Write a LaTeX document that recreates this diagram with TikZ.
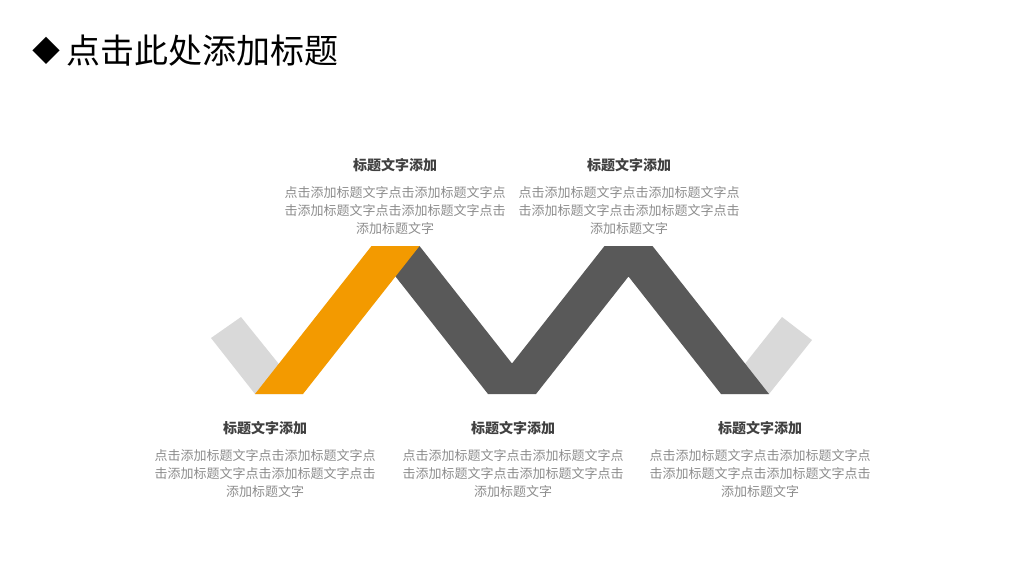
\documentclass[tikz,border=0pt]{standalone}
\usepackage{fontspec}
\setmainfont{Noto Sans CJK SC}
\usepackage{xcolor}
\usetikzlibrary{positioning}

\definecolor{ribbonorange}{HTML}{F39A00}
\definecolor{ribbondark}{HTML}{595959}
\definecolor{ribbonlight}{HTML}{D9D9D9}
\definecolor{headgray}{HTML}{404040}
\definecolor{bodygray}{HTML}{8C8C8C}

\begin{document}
\begin{tikzpicture}[
    x=0.75pt, y=-0.75pt,
    heading/.style={font=\fontsize{10.5pt}{12pt}\selectfont\bfseries, text=headgray, inner sep=0pt},
    blurb/.style={font=\fontsize{9.75pt}{13.5pt}\selectfont, text=bodygray, align=center, inner sep=0pt}
]
\useasboundingbox (0,0) rectangle (1024,576);

\node[anchor=west, inner sep=0pt, font=\fontsize{21pt}{24pt}\selectfont] (mark) at (32.5,51) {◆};
\node[right=4pt of mark, inner sep=0pt, font=\fontsize{25.5pt}{30pt}\selectfont] (title) {点击此处添加标题};

% ribbon
\fill[ribbonlight] (211,338) -- (241,317) -- (303,394) -- (255,394) -- cycle;
\fill[ribbonlight] (721,394) -- (769,394) -- (812,340) -- (782,317) -- cycle;
\fill[ribbondark] (371.5,246) -- (419.5,246) -- (512,363.5) -- (604.5,246) -- (652.5,246)
    -- (769,394) -- (721,394) -- (628.5,276.5) -- (536,394) -- (488,394) -- cycle;
\fill[ribbonorange] (255,394) -- (303,394) -- (419.5,246) -- (371.5,246) -- cycle;

% top labels
\node[heading] (head2) at (395,165) {标题文字添加};
\node[blurb, below=10.5pt of head2] (text2) {点击添加标题文字点击添加标题文字点\\击添加标题文字点击添加标题文字点击\\添加标题文字};
\node[heading] (head4) at (629,165) {标题文字添加};
\node[blurb, below=10.5pt of head4] (text4) {点击添加标题文字点击添加标题文字点\\击添加标题文字点击添加标题文字点击\\添加标题文字};

% bottom labels
\node[heading] (head1) at (265,428) {标题文字添加};
\node[blurb, below=10.5pt of head1] (text1) {点击添加标题文字点击添加标题文字点\\击添加标题文字点击添加标题文字点击\\添加标题文字};
\node[heading] (head3) at (513,428) {标题文字添加};
\node[blurb, below=10.5pt of head3] (text3) {点击添加标题文字点击添加标题文字点\\击添加标题文字点击添加标题文字点击\\添加标题文字};
\node[heading] (head5) at (760,428) {标题文字添加};
\node[blurb, below=10.5pt of head5] (text5) {点击添加标题文字点击添加标题文字点\\击添加标题文字点击添加标题文字点击\\添加标题文字};

\end{tikzpicture}
\end{document}
